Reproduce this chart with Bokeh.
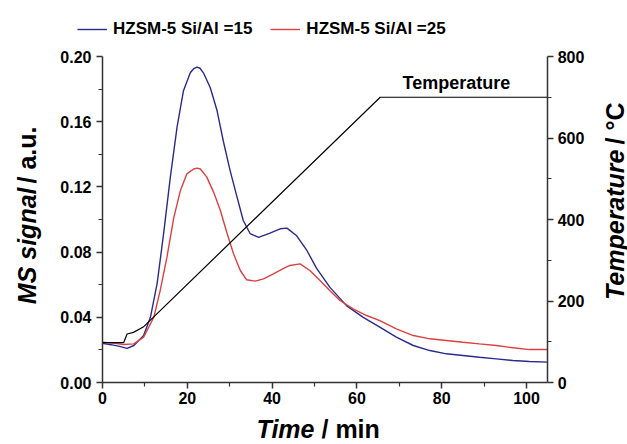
import math
from bokeh.plotting import figure
from bokeh.models import Range1d, LinearAxis, FixedTicker, Label, Legend, LegendItem, PrintfTickFormatter
from bokeh.embed import file_html
from bokeh.resources import INLINE

# ---- data ----
t_15 = [0, 2, 4, 5.8, 7.4, 9.7, 11.3, 12.9, 14.4, 16, 17.6, 19.1, 20.7, 21.5, 22.3, 23.0, 23.8, 25.4,
        27, 28.5, 30.1, 31.7, 33.2, 34.8, 36.8, 39.5, 41.9, 43.5, 45.8, 48.2, 50.5, 53.6, 57.6,
        61.5, 65.4, 69.3, 73.3, 77.2, 81.1, 85, 88.9, 92.9, 96.8, 100.7, 105]
ms_15 = [0.0240, 0.0232, 0.0222, 0.0209, 0.0227, 0.0288, 0.040, 0.061, 0.091, 0.126, 0.157, 0.179,
         0.190, 0.1925, 0.1935, 0.1928, 0.190, 0.181, 0.167, 0.148, 0.130, 0.114, 0.0994, 0.0914,
         0.089, 0.0916, 0.0943, 0.0947, 0.090, 0.081, 0.070, 0.0585, 0.047, 0.040, 0.034, 0.0278,
         0.0227, 0.0196, 0.0176, 0.0166, 0.0155, 0.0145, 0.0135, 0.0129, 0.0125]

t_25 = [0, 3, 5, 7.4, 9.7, 12.1, 13.6, 15.2, 16.8, 18.4, 19.9, 21.5, 22.3, 23.1, 24.6, 26.2, 27.8,
        29.3, 30.9, 32.5, 34, 36, 38, 40.3, 42.7, 44.2, 46.6, 48.9, 51.3, 53.6, 56, 59.1, 62.3,
        65.4, 69.3, 73.3, 77.2, 81.1, 85, 88.9, 92.9, 96.8, 100.7, 105]
ms_25 = [0.0247, 0.0240, 0.0233, 0.0237, 0.0278, 0.040, 0.0564, 0.0769, 0.101, 0.118, 0.128, 0.131,
         0.1315, 0.131, 0.126, 0.1168, 0.1055, 0.0922, 0.079, 0.0687, 0.063, 0.0622, 0.0636, 0.0667,
         0.0700, 0.0718, 0.0728, 0.0687, 0.0626, 0.0564, 0.0503, 0.0452, 0.0411, 0.038, 0.0329,
         0.0288, 0.0268, 0.0258, 0.0247, 0.0237, 0.0227, 0.0213, 0.0202, 0.0202]

t_temp = [0, 5, 5.8, 7.3, 9.6, 65.5, 105]
temp_c = [98, 98, 119, 123, 136, 700, 700]

x_ticks = [0, 20, 40, 60, 80, 100]
x_minor = [10, 30, 50, 70, 90]
y_ticks = [0.00, 0.04, 0.08, 0.12, 0.16, 0.20]
y_minor = [0.02, 0.06, 0.10, 0.14, 0.18]
t_ticks = [0, 200, 400, 600, 800]
t_minor = [100, 300, 500, 700]

label_15 = "HZSM-5 Si/Al =15"
label_25 = "HZSM-5 Si/Al =25"

FONT = "Liberation Sans"
BLUE = "#2a2a8c"
RED = "#dc4040"

W, H = 627, 444
X0_PX, PX_PER_MIN = 102.0, 4.24          # frame fills the canvas; axes are fixed inside it
Y0_PX, PX_PER_UNIT = 382.0, 1630.0
x_start = -X0_PX / PX_PER_MIN
x_end = (W - X0_PX) / PX_PER_MIN
y_start = -(H - Y0_PX) / PX_PER_UNIT
y_end = Y0_PX / PX_PER_UNIT
T_SCALE = 4000.0  # 0.2 a.u. <-> 800 degC

p = figure(width=W, height=H, output_backend="svg", toolbar_location=None,
           x_range=Range1d(x_start, x_end), y_range=Range1d(y_start, y_end),
           min_border=0)
p.extra_y_ranges = {"temp": Range1d(y_start * T_SCALE, y_end * T_SCALE)}
p.xgrid.visible = False
p.ygrid.visible = False
p.outline_line_color = None
p.background_fill_color = "white"
p.border_fill_color = "white"

r15 = p.line(t_15, ms_15, line_color=BLUE, line_width=1.4)
r25 = p.line(t_25, ms_25, line_color=RED, line_width=1.4)
p.line(t_temp, temp_c, line_color="black", line_width=1.2, y_range_name="temp")

right = LinearAxis(y_range_name="temp")
p.add_layout(right, "right")

def style(ax, ticks, minor, loc, bounds):
    ax.fixed_location = loc
    ax.bounds = bounds
    ax.ticker = FixedTicker(ticks=ticks, minor_ticks=minor)
    ax.axis_line_color = "#333333"
    ax.axis_line_width = 1.5
    ax.major_tick_line_color = "#333333"
    ax.minor_tick_line_color = "#333333"
    ax.major_tick_line_width = 1.5
    ax.minor_tick_line_width = 1.2
    ax.major_tick_out = 6
    ax.major_tick_in = 0
    ax.minor_tick_out = 4
    ax.minor_tick_in = 0
    ax.major_label_text_font = FONT
    ax.major_label_text_font_style = "bold"
    ax.major_label_text_font_size = "16px"
    ax.major_label_text_color = "black"
    ax.axis_label = None

style(p.xaxis[0], x_ticks, x_minor, 0, (0, 105))
style(p.yaxis[0], y_ticks, y_minor, 0, (0, 0.2))
style(right, t_ticks, t_minor, 105, (0, 800))
p.xaxis[0].major_label_standoff = 3
p.yaxis[0].major_label_standoff = 5
right.major_label_standoff = 4
p.yaxis[0].formatter = PrintfTickFormatter(format="%.2f")

legend = Legend(items=[LegendItem(label=label_15, renderers=[r15]),
                       LegendItem(label=label_25, renderers=[r25])],
                orientation="horizontal", location=(77, 405),
                padding=0, margin=0, spacing=18, label_standoff=6,
                glyph_width=30, glyph_height=20, label_height=20,
                border_line_color=None, background_fill_alpha=0,
                label_text_font=FONT, label_text_font_style="bold",
                label_text_font_size="17px", label_text_color="black")
p.add_layout(legend, "center")

def lab(text, x, y, style_, size, align, angle=0.0):
    # x, y in canvas pixels: x from the left, y from the bottom
    p.add_layout(Label(x=x, y=y, x_units="screen", y_units="screen", text=text,
                       text_font=FONT, text_font_style=style_, text_font_size=size,
                       text_align=align, text_baseline="middle", angle=angle,
                       text_color="black"))

# left axis label
lab("MS signal", 26, 257, "bold italic", "25px", "right", math.pi / 2)
lab("/ a.u.", 26, 261, "bold", "25px", "left", math.pi / 2)
# right axis label
lab("Temperature", 614, 295, "bold italic", "25px", "right", math.pi / 2)
lab("/ °C", 614, 300, "bold", "25px", "left", math.pi / 2)
# bottom axis label
lab("Time", 314, 16, "bold italic", "25px", "right")
lab("/ min", 321, 16, "bold", "25px", "left")
# curve annotation
lab("Temperature", 402, 362, "bold", "18px", "left")

open("out.html", "w").write(file_html(p, INLINE))
